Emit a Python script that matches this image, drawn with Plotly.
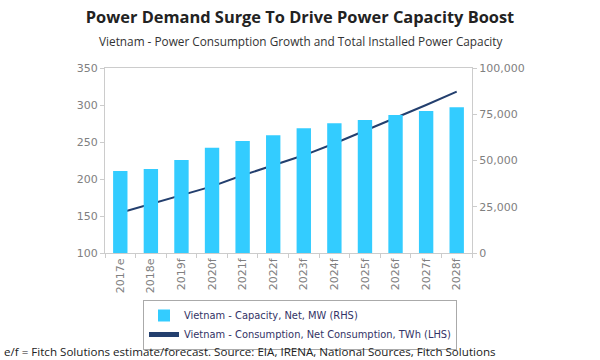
import plotly.graph_objects as go

years = ["2017e", "2018e", "2019f", "2020f", "2021f", "2022f", "2023f", "2024f", "2025f", "2026f", "2027f", "2028f"]
capacity_mw = [44300, 45400, 50300, 56900, 60500, 63600, 67400, 70100, 71900, 74600, 76800, 78800]
consumption_twh = [154.5, 166, 178, 190, 205, 219, 232, 248, 265, 282, 300, 318]

W, H = 600, 360
L, R, T, B = 105, 128, 68, 107
ph = H - T - B
pw = W - L - R

def px_x(x):
    return (x - L) / pw

def px_y(y):
    return (H - B - y) / ph

gray = "#808080"
fig = go.Figure()
fig.add_trace(go.Bar(
    x=years, y=capacity_mw, name="Vietnam - Capacity, Net, MW (RHS)",
    marker=dict(color="#33CCFF", line=dict(width=0)), yaxis="y2",
))
fig.add_trace(go.Scatter(
    x=years, y=consumption_twh, name="Vietnam - Consumption, Net Consumption, TWh (LHS)",
    mode="lines", line=dict(color="#233F6E", width=2), yaxis="y",
))

fig.update_layout(
    width=W, height=H,
    margin=dict(l=L, r=R, t=T, b=B, autoexpand=False),
    paper_bgcolor="white", plot_bgcolor="white",
    bargap=0.53,
    showlegend=True,
    font=dict(family="DejaVu Sans", size=11, color=gray),
    title=dict(text="<b>Power Demand Surge To Drive Power Capacity Boost</b>",
               x=0.5, xref="container", xanchor="center",
               y=1 - 17 / H, yref="container", yanchor="middle",
               font=dict(family="Open Sans", size=16.4, color="#222222")),
    xaxis=dict(type="category", tickangle=-90, showline=True, linecolor="#cccccc",
               mirror=True, ticks="outside", ticklen=4, tickcolor="#cccccc",
               tickson="boundaries", showgrid=False, automargin=False,
               tickfont=dict(family="DejaVu Sans", size=11, color=gray)),
    yaxis=dict(range=[100, 350], dtick=50, showgrid=False, showline=True,
               linecolor="#cccccc", ticks="outside", ticklen=4, tickcolor="#cccccc",
               automargin=False,
               tickfont=dict(family="DejaVu Sans", size=11, color=gray), zeroline=False),
    yaxis2=dict(range=[0, 100000], dtick=25000, overlaying="y", side="right",
                showgrid=False, showline=True, linecolor="#cccccc", ticks="outside",
                ticklen=4, tickcolor="#cccccc", tickformat=",d", automargin=False,
                tickfont=dict(family="DejaVu Sans", size=11, color=gray), zeroline=False),
    legend=dict(orientation="v", x=px_x(300), xanchor="center",
                y=px_y(300), yanchor="top",
                bordercolor="#aaaaaa", borderwidth=1, bgcolor="white",
                font=dict(family="DejaVu Sans", size=9.9, color="#333366"),
                itemsizing="constant", tracegroupgap=0, itemwidth=30),
    annotations=[
        dict(text="Vietnam - Power Consumption Growth and Total Installed Power Capacity",
             xref="paper", yref="paper", x=px_x(300), y=px_y(41),
             xanchor="center", yanchor="middle", showarrow=False,
             font=dict(family="Open Sans", size=11.8, color="#333333")),
        dict(text="e/f = Fitch Solutions estimate/forecast. Source: EIA, IRENA, National Sources, Fitch Solutions",
             xref="paper", yref="paper", x=px_x(2), y=px_y(351),
             xanchor="left", yanchor="middle", showarrow=False,
             font=dict(family="Open Sans", size=11.6, color="#222222")),
    ],
)

fig.write_html("out.html", config={"displayModeBar": False},
               post_script="document.body.style.margin='0';")
